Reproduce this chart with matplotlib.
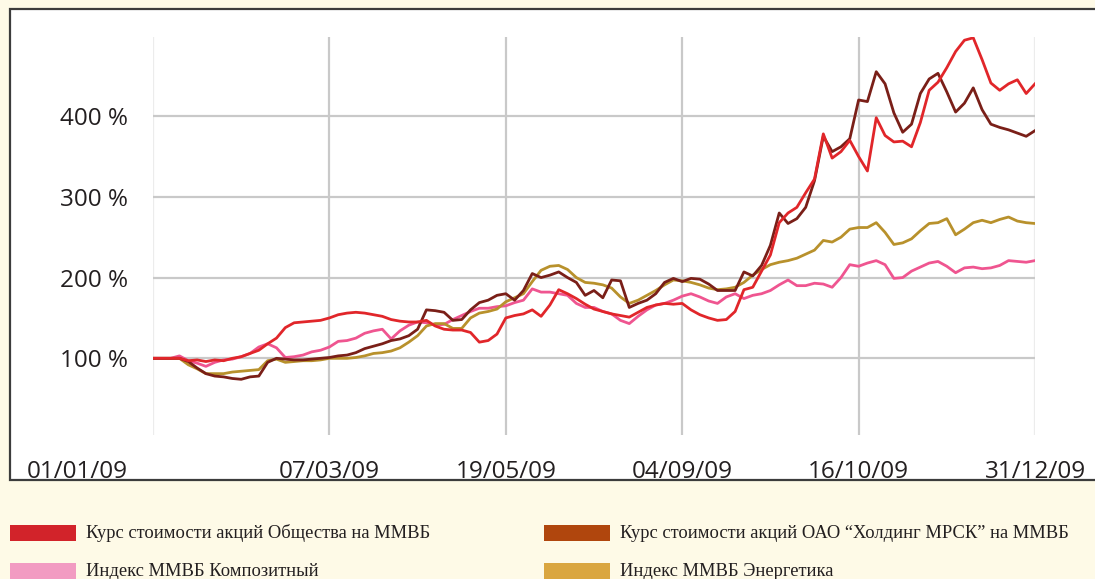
import numpy as np
import matplotlib.pyplot as plt
from matplotlib.patches import Rectangle
from matplotlib.transforms import ScaledTranslation

DATE_LABELS = ["01/01/09", "07/03/09", "19/05/09", "04/09/09", "16/10/09", "31/12/09"]
Y_TICKS = [100, 200, 300, 400]

# values in % of 01/01/09 level, sampled evenly along the axis (101 points)
COMPANY = [100, 100, 100, 100, 97, 98, 96, 98, 97, 100,
           102, 106, 110, 118, 125, 138, 144, 145, 146, 147,
           150, 154, 156, 157, 156, 154, 152, 148, 146, 145,
           145, 147, 140, 136, 135, 135, 132, 120, 122, 130,
           150, 153, 155, 160, 152, 166, 185, 180, 174, 167,
           161, 158, 155, 153, 151, 157, 163, 166, 168, 167,
           168, 160, 154, 150, 147, 148, 158, 185, 188, 208,
           228, 268, 280, 287, 305, 322, 378, 348, 356, 370,
           350, 332, 398, 376, 368, 369, 362, 392, 432, 442,
           460, 480, 494, 497, 470, 441, 432, 440, 445, 428,
           440]
HOLDING = [100, 100, 100, 100, 96, 88, 81, 78, 77, 75,
           74, 77, 78, 95, 100, 99, 98, 98, 99, 100,
           101, 103, 104, 107, 112, 115, 118, 122, 124, 128,
           136, 160, 159, 157, 147, 148, 160, 169, 172, 178,
           180, 172, 184, 205, 200, 203, 207, 200, 194, 178,
           184, 175, 197, 196, 163, 168, 172, 180, 194, 199,
           195, 199, 198, 192, 184, 184, 184, 207, 202, 215,
           240, 280, 267, 273, 287, 320, 375, 356, 362, 372,
           420, 418, 455, 440, 404, 380, 390, 428, 446, 453,
           430, 405, 416, 435, 408, 390, 386, 383, 379, 375,
           382]
MICEX = [100, 100, 100, 103, 97, 94, 90, 95, 98, 99,
         102, 106, 114, 118, 113, 101, 102, 104, 108, 110,
         114, 121, 122, 125, 131, 134, 136, 124, 134, 141,
         145, 144, 141, 142, 148, 153, 158, 162, 162, 164,
         165, 169, 172, 186, 182, 182, 180, 178, 168, 163,
         163, 158, 155, 147, 143, 152, 160, 166, 168, 172,
         177, 180, 176, 171, 168, 176, 180, 174, 178, 180,
         184, 191, 197, 190, 190, 193, 192, 188, 200, 216,
         214, 218, 221, 216, 199, 200, 208, 213, 218, 220,
         214, 206, 212, 213, 211, 212, 215, 221, 220, 219,
         221]
POWER = [100, 100, 100, 100, 92, 87, 81, 81, 81, 83,
         84, 85, 86, 97, 99, 95, 96, 97, 97, 98,
         100, 100, 100, 101, 103, 106, 107, 109, 113, 120,
         128, 140, 143, 143, 137, 137, 150, 156, 158, 161,
         170, 175, 180, 195, 209, 214, 215, 210, 200, 194,
         193, 191, 187, 176, 168, 172, 178, 184, 191, 197,
         196, 194, 191, 187, 185, 186, 188, 194, 203, 210,
         216, 219, 221, 224, 229, 234, 246, 244, 250, 260,
         262, 262, 268, 256, 241, 243, 248, 258, 267, 268,
         273, 253, 260, 268, 271, 268, 272, 275, 270, 268,
         267]

LEGEND_LABELS = [
    "Курс стоимости акций Общества на ММВБ",
    "Курс стоимости акций ОАО “Холдинг МРСК” на ММВБ",
    "Индекс ММВБ Композитный",
    "Индекс ММВБ Энергетика",
]
LINE_COLORS = ["#E1262A", "#7A1F18", "#EF5590", "#B8912C"]
SWATCH_COLORS = ["#D2232A", "#B0460D", "#F29BC2", "#DAA640"]

W, H = 1095, 579


def main():
    fig = plt.figure(figsize=(W / 100, H / 100), dpi=100, facecolor="#FEFAE7")

    # white framed panel, kept behind the axes
    fig.patches.append(Rectangle((10 / W, 1 - 480 / H), 1.05, 471 / H,
                                 transform=fig.transFigure, facecolor="white",
                                 edgecolor="#3c3c3c", lw=1.6, zorder=-5))

    ax = fig.add_axes([153 / W, 1 - 435 / H, 882 / W, 398 / H])
    ax.set_facecolor("none")
    ax.set_zorder(2)
    for s in ax.spines.values():
        s.set_visible(False)

    x = np.linspace(0, len(DATE_LABELS) - 1, len(COMPANY))
    order = [2, 3, 1, 0]
    data = [COMPANY, HOLDING, MICEX, POWER]
    for z, i in enumerate(order):
        ax.plot(x, data[i], color=LINE_COLORS[i], lw=2.0, zorder=3 + z)

    ax.set_xlim(0, len(DATE_LABELS) - 1)
    ax.set_ylim(5, 498)
    ax.set_yticks(Y_TICKS)
    ax.set_yticklabels([f"{v} %" for v in Y_TICKS])
    ax.set_xticks(range(len(DATE_LABELS)))
    ax.set_xticklabels(DATE_LABELS)
    ax.tick_params(length=0, labelsize=17.5, labelcolor="#231F20")
    ax.tick_params(axis="y", pad=18)
    ax.tick_params(axis="x", pad=18)
    for lab in ax.get_xticklabels() + ax.get_yticklabels():
        lab.set_family("Open Sans")

    first = ax.get_xticklabels()[0]
    first.set_ha("right")
    first.set_transform(first.get_transform()
                        + ScaledTranslation(-25 / 100, 0, fig.dpi_scale_trans))

    ax.grid(True, color="#c9c9c9", lw=1.6, zorder=1)
    xg = ax.get_xgridlines()
    xg[0].set_color("#ececec")
    xg[-1].set_color("#ececec")

    # legend below the panel
    cols = [10, 544]
    rows = [533, 571]
    for i, (label, col) in enumerate(zip(LEGEND_LABELS, SWATCH_COLORS)):
        cx = cols[i % 2]
        cy = rows[i // 2]
        fig.patches.append(Rectangle((cx / W, 1 - (cy + 8) / H), 66 / W, 16 / H,
                                     transform=fig.transFigure, facecolor=col,
                                     edgecolor="none"))
        fig.text((cx + 76) / W, 1 - cy / H, label, ha="left", va="center",
                 fontsize=13.3, family="Liberation Serif", color="#231F20")

    fig.savefig("out.png", dpi=100, facecolor=fig.get_facecolor())


if __name__ == "__main__":
    main()
